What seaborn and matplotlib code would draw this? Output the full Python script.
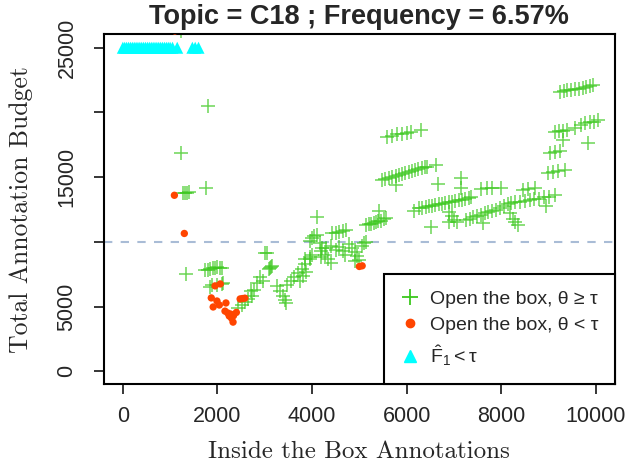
import numpy as np
import pandas as pd
import seaborn as sns
import matplotlib.pyplot as plt
from matplotlib.lines import Line2D

# "Open the box, theta >= tau"
green_x = [1240, 1810, 1765, 1280, 1320, 1350, 1390, 1345, 1230,
           1745, 1800, 1850, 1900, 1950, 2000, 2060, 2100,
           1850, 2120, 1890, 2000, 2100,
           2440, 2520, 2590, 2650,
           2730, 2770, 2830, 2900, 2960, 2700,
           3000, 3050, 3100, 3120, 3140, 3160,
           3260, 3320, 3380, 3420, 3460,
           3470, 3550, 3620, 3700, 3780, 3860, 3950, 4000,
           3850, 3950, 3750, 3800, 3880,
           3950, 4000, 4050, 4100, 4100,
           4160, 4220, 4270, 4330, 4400, 4200,
           4430, 4500, 4580, 4650, 4720,
           4580, 4650, 4700, 4780, 4850, 4900, 4950, 5000, 5050, 5100, 5150, 4900,
           4200, 4300, 4400, 4500,
           5150, 5200, 5250, 5300, 5350, 5400, 5450, 5520, 5570, 5420,
           5590, 5700, 5800, 5900, 6000, 6100, 6300,
           5480, 5550, 5620, 5700, 5770, 5840, 5900, 5970, 6040, 6110, 6180, 6250, 6320, 6380, 6430,
           5780, 6620, 6660, 7140, 7160,
           6260, 6330, 6400, 6470, 6540, 6610, 6680, 6750, 6820, 6890, 6960, 7030, 7100, 7170, 7240, 7310, 7370,
           6155, 6510,
           6890, 6950, 7000, 7060, 6900,
           7250, 7330, 7410, 7490, 7570, 7650, 7730, 7810, 7890, 7970, 8050, 8150,
           8210, 8300, 8400, 8500, 8600, 8700, 8800, 8900, 9000, 9140,
           7580, 7700, 7800, 8000,
           8470, 8570, 8720,
           8190, 8250, 8300, 8360, 7625, 8950,
           8990, 9100, 9200, 9350,
           9030, 9130, 9240,
           9140, 9230, 9300, 9400, 9560, 9300,
           9680, 9780, 9880, 9960, 10040, 9830,
           9240, 9320, 9400, 9480, 9560, 9640, 9720, 9800, 9880, 9940]
green_y = [16850, 20500, 14200, 13750, 13800, 13800, 13850, 7550, 26300,
           7800, 7850, 7900, 7950, 8000, 8050, 8000, 7950,
           6500, 6830, 6650, 6700, 6750,
           4900, 5100, 5350, 5600,
           5800, 6300, 6800, 7300, 7000, 6200,
           9160, 9160, 7900, 8000, 8050, 8100,
           6600, 6200, 5800, 5500, 5300,
           6700, 7000, 7300, 7600, 7900, 8300, 8700, 9000,
           8700, 8800, 7000, 7400, 7700,
           10100, 10300, 10450, 10500, 11900,
           9900, 9500, 9000, 8700, 8400, 8800,
           10650, 10700, 10750, 10850, 10900,
           9600, 9300, 9000, 9800, 9500, 9200, 8900, 8600, 9700, 9900, 10000, 8500,
           9300, 9500, 9700, 9400,
           11300, 11350, 11400, 11450, 11500, 11600, 11650, 11750, 11850, 12420,
           18100, 18200, 18300, 18350, 18450, 18500, 18650,
           14800, 14850, 14950, 15000, 15100, 15150, 15250, 15300, 15400, 15450, 15550, 15600, 15700, 15750, 15800,
           14360, 15920, 14440, 14900, 14130,
           12600, 12650, 12700, 12750, 12800, 12850, 12900, 12950, 13000, 13050, 13100, 13150, 13200, 13250, 13300, 13400, 13450,
           12420, 11150,
           12300, 12000, 11700, 11500, 11500,
           11700, 11800, 11900, 12000, 12100, 12200, 12300, 12400, 12500, 12600, 12750, 12900,
           13000, 13050, 13100, 13150, 13200, 13300, 13350, 13450, 13500, 13600,
           14100, 14150, 14200, 14200,
           14000, 14100, 14200,
           12200, 11800, 11500, 11300, 11490, 12800,
           15300, 15400, 15450, 15550,
           16850, 16950, 17050,
           18480, 18550, 18600, 18650, 18790, 17860,
           19050, 19150, 19250, 19300, 19400, 17620,
           21600, 21650, 21700, 21750, 21800, 21850, 21900, 21950, 22050, 22130]

# "Open the box, theta < tau"
red_x = [1090, 1300, 1100,
         1950, 2060, 1870, 1990, 1910, 2040, 2180,
         2160, 2220, 2280, 2340, 2400, 2250, 2330, 2300,
         2480, 2530, 2580, 5000, 5060]
red_y = [13600, 10650, 26300,
         6600, 6750, 5670, 5430, 4970, 5120, 5280,
         4650, 4500, 4420, 4300, 4550, 4270, 3800, 4100,
         5590, 5620, 5650, 8100, 8150]

# "F1 hat < tau"
cyan_x = [0, 40, 80, 120, 160, 200, 240, 280, 320, 360, 400, 440, 480, 520,
          560, 600, 640, 680, 720, 760, 800, 840, 880, 920, 960, 1000, 1050,
          1150, 1470, 1530, 1600]
cyan_y = [25000] * len(cyan_x)

y_ticks = [0, 5000, 10000, 15000, 20000, 25000]
y_tick_labels = ["0", "5000", "", "15000", "", "25000"]
x_ticks = [0, 2000, 4000, 6000, 8000, 10000]
threshold = 10000

sns.set_style("white")
plt.rcParams["font.family"] = ["Liberation Sans", "DejaVu Sans"]
plt.rcParams["mathtext.fontset"] = "custom"
plt.rcParams["mathtext.rm"] = "Liberation Sans"
plt.rcParams["mathtext.it"] = "Liberation Sans:italic"

fig = plt.figure(figsize=(6.26, 4.68), dpi=100)
ax = fig.add_axes([0.166, 0.179, 0.816, 0.748])

col_green = "#3cc81e"
col_red = "#ff4500"
col_cyan = "#00ffff"

ax.axhline(threshold, color="#a9bcd6", lw=1.5, ls=(0, (4, 4)), zorder=1)

sns.scatterplot(x=green_x, y=green_y, marker="+", s=90, color=col_green,
                linewidth=1.1, alpha=0.75, ax=ax, zorder=2)
sns.scatterplot(x=red_x, y=red_y, marker="o", s=28, color=col_red,
                edgecolor="none", ax=ax, zorder=3)
sns.scatterplot(x=cyan_x, y=cyan_y, marker="^", s=75, color=col_cyan,
                edgecolor="none", ax=ax, zorder=4)

ax.set_xlim(-400, 10400)
ax.set_ylim(-1000, 26050)
ax.set_xticks(x_ticks)
ax.set_xticklabels([str(v) for v in x_ticks])
ax.set_yticks(y_ticks)
ax.set_yticklabels(y_tick_labels, rotation=90, va="center")
ax.tick_params(axis="both", direction="out", length=7, width=1.3,
               labelsize=15.5, left=True, bottom=True)
ax.tick_params(axis="x", pad=9)
ax.tick_params(axis="y", pad=12)
for s in ax.spines.values():
    s.set_color("black")
    s.set_linewidth(1.5)

ax.set_xlabel("Inside the Box Annotations", family="cmr10", fontsize=18, labelpad=10)
ax.set_ylabel("Total Annotation Budget", family="cmr10", fontsize=18.5, labelpad=17)
ax.set_title("Topic = C18 ; Frequency = 6.57%", fontsize=19.5, fontweight="bold", pad=7)

handles = [
    Line2D([], [], ls="none", marker="+", ms=11, mew=1.3, color=col_green),
    Line2D([], [], ls="none", marker="o", ms=6, color=col_red),
    Line2D([], [], ls="none", marker="^", ms=9, color=col_cyan),
]
labels = ["Open the box, \u03b8 \u2265 \u03c4",
          "Open the box, \u03b8 < \u03c4",
          r"$\hat{\mathrm{F}}_1 < \mathrm{\tau}$"]
leg = ax.legend(handles, labels, loc="lower right", borderaxespad=0,
                fontsize=14, frameon=True, fancybox=False, framealpha=1,
                edgecolor="black", handletextpad=0.5, borderpad=0.85,
                labelspacing=0.45, handlelength=1.0)
leg.get_frame().set_linewidth(1.5)

fig.savefig("out.png", dpi=100)
